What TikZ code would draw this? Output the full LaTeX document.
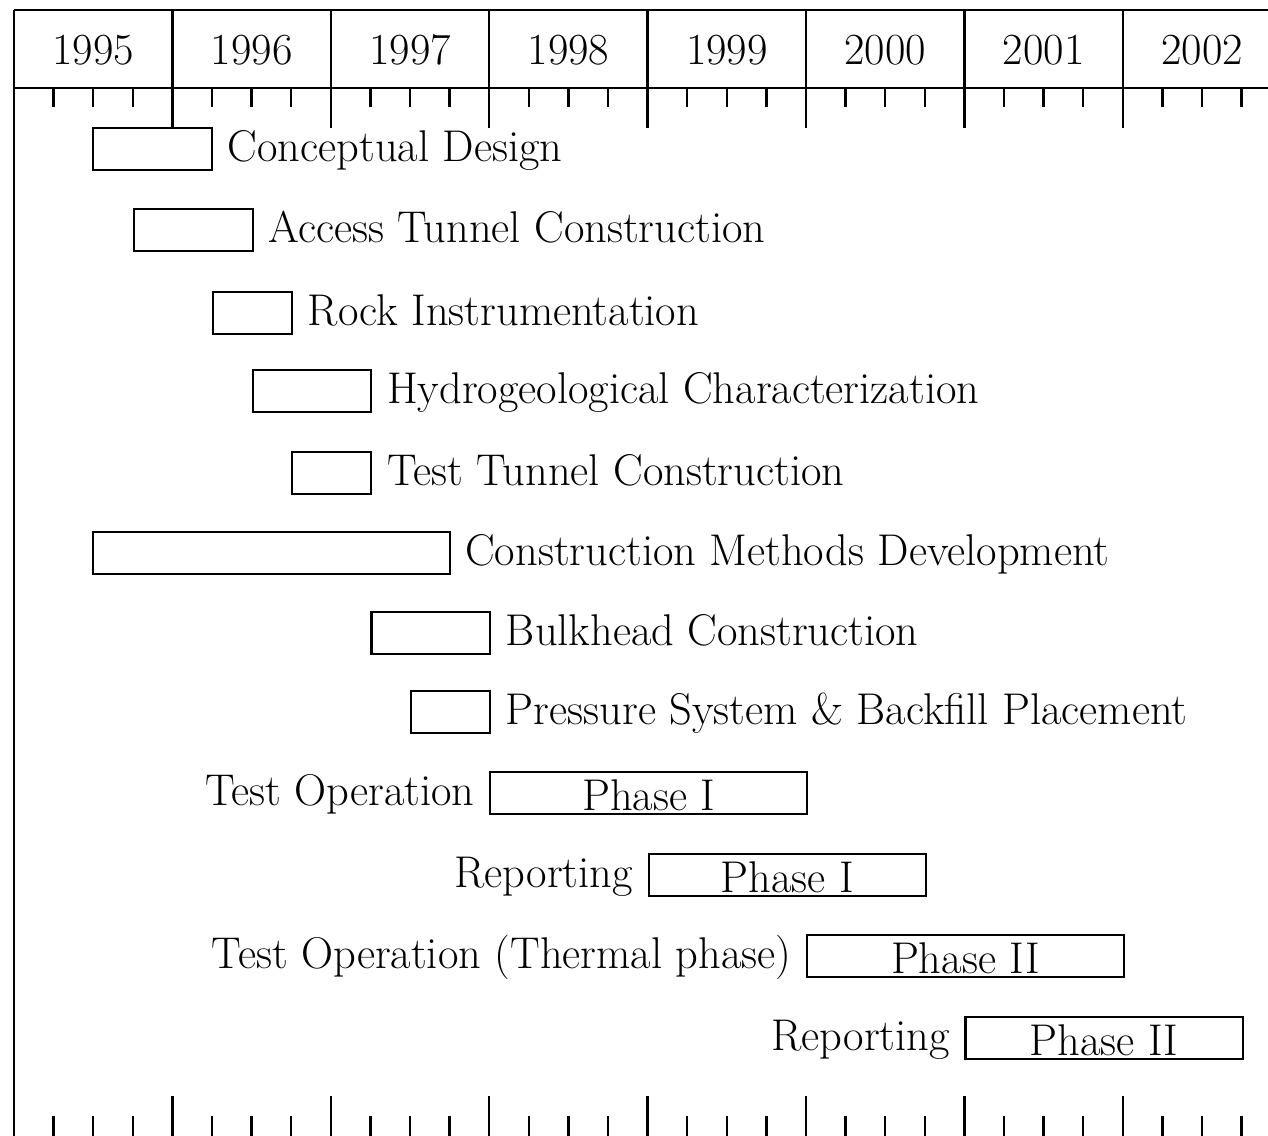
\documentclass[tikz,border=0pt]{standalone}
\begin{document}
\begin{tikzpicture}[x=0.02cm,y=-0.02cm, line width=1.3pt,
  every node/.style={font=\fontsize{25.3}{30}\selectfont},
  gbar/.style={draw, line width=1.2pt, anchor=west, minimum height=0.84cm, inner sep=0pt, text height=20pt, text depth=0.6pt},
  glabel/.style={inner xsep=0.27cm, inner ysep=0pt, text height=18pt, text depth=4.3pt}]
\useasboundingbox (0,0) rectangle (1268,1136);
\def\yw{3.168cm}
% frame and time scale
\draw (14,10) -- (1268,10);
\draw (14,88) -- (1268,88);
\draw (14,10) -- (14,1136);
\foreach \k in {1,...,7} {
  \draw ({14+158.4*\k},10) -- ({14+158.4*\k},128);
  \draw ({14+158.4*\k},1096) -- ({14+158.4*\k},1136);
}
\foreach \k in {0,...,7} {
  \foreach \q in {1,2,3} {
    \draw ({14+158.4*(\k+\q/4)},88) -- ({14+158.4*(\k+\q/4)},107);
    \draw ({14+158.4*(\k+\q/4)},1116) -- ({14+158.4*(\k+\q/4)},1136);
  }
}
\foreach \yr [count=\i from 0] in {1995,...,2002}
  \node (y\yr) at ({14+158.4*(\i+0.5)},50) {\yr};
% bars
\node[gbar, minimum width=0.75*\yw] (b1) at ({13+158.4*0.5},149) {};
\node[glabel, anchor=west] (l1) at (b1.east) {Conceptual Design};
\node[gbar, minimum width=0.75*\yw] (b2) at ({14+158.4*0.75},230) {};
\node[glabel, anchor=west] (l2) at (b2.east) {Access Tunnel Construction};
\node[gbar, minimum width=0.5*\yw] (b3) at ({14+158.4*1.25},313) {};
\node[glabel, anchor=west] (l3) at (b3.east) {Rock Instrumentation};
\node[gbar, minimum width=0.75*\yw] (b4) at ({14+158.4*1.5},391) {};
\node[glabel, anchor=west] (l4) at (b4.east) {Hydrogeological Characterization};
\node[gbar, minimum width=0.5*\yw] (b5) at ({14+158.4*1.75},473) {};
\node[glabel, anchor=west] (l5) at (b5.east) {Test Tunnel Construction};
\node[gbar, minimum width=2.25*\yw] (b6) at ({13+158.4*0.5},553) {};
\node[glabel, anchor=west] (l6) at (b6.east) {Construction Methods Development};
\node[gbar, minimum width=0.75*\yw] (b7) at ({14+158.4*2.25},633) {};
\node[glabel, anchor=west] (l7) at (b7.east) {Bulkhead Construction};
\node[gbar, minimum width=0.5*\yw] (b8) at ({14+158.4*2.5},712) {};
\node[glabel, anchor=west] (l8) at (b8.east) {Pressure System \& Backfill Placement};
\node[gbar, minimum width=2*\yw] (b9) at ({14+158.4*3},793) {Phase I};
\node[glabel, anchor=east] (l9) at (b9.west) {Test Operation};
\node[gbar, minimum width=1.75*\yw] (b10) at ({14+158.4*4},875) {Phase I};
\node[glabel, anchor=east] (l10) at (b10.west) {Reporting};
\node[gbar, minimum width=2*\yw] (b11) at ({14+158.4*5},956) {Phase II};
\node[glabel, anchor=east] (l11) at (b11.west) {Test Operation (Thermal phase)};
\node[gbar, minimum width=1.75*\yw] (b12) at ({14+158.4*6},1038) {Phase II};
\node[glabel, anchor=east] (l12) at (b12.west) {Reporting};
\end{tikzpicture}
\end{document}
